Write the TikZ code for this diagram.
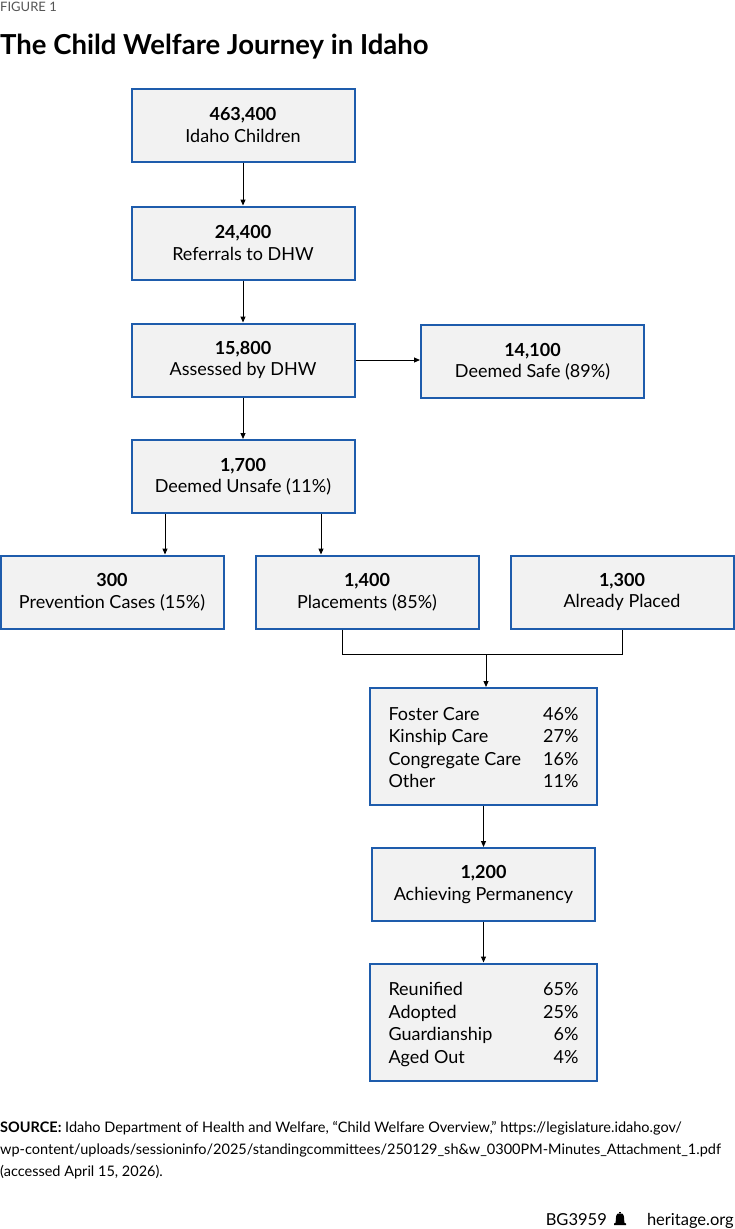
\documentclass[tikz,border=0pt]{standalone}
\usepackage{fontspec}
\setmainfont{Lato}
\usetikzlibrary{arrows.meta}
\definecolor{boxblue}{RGB}{30,92,172}
\definecolor{boxfill}{RGB}{242,242,242}
\definecolor{figgray}{RGB}{85,85,85}
\tikzset{
  box/.style={draw=boxblue, line width=2pt, fill=boxfill, minimum width=223pt, minimum height=73pt, align=center, inner sep=0pt, font=\fontsize{18}{21.5}\selectfont},
  listbox/.style={draw=boxblue, line width=2pt, fill=boxfill, minimum width=227pt, minimum height=117pt, inner sep=0pt, font=\fontsize{18}{22.5}\selectfont},
  arr/.style={line width=1pt, -{Triangle[length=6pt,width=5pt]}},
  ln/.style={line width=1pt},
  srcline/.style={anchor=base west, inner sep=0pt, font=\fontsize{14.5}{22}\selectfont}
}
\newcommand{\twoline}[2]{{\bfseries #1}\\#2}
\begin{document}
\begin{tikzpicture}[x=1pt,y=-1pt]
\useasboundingbox (0,0) rectangle (734,1229);
\node[anchor=base west, inner sep=0pt, text=figgray, font=\fontsize{13}{14}\selectfont] (fig) at (0,11) {FIGURE 1};
\node[anchor=base west, inner sep=0pt, font=\fontsize{27.5}{30}\bfseries\selectfont] (title) at (0,54) {The Child Welfare Journey in Idaho};

\node[box] (b1) at (243,125) {\twoline{463,400}{Idaho Children}};
\node[box] (b2) at (243,243) {\twoline{24,400}{Referrals to DHW}};
\node[box] (b3) at (243,360) {\twoline{15,800}{Assessed by DHW}};
\node[box] (safe) at (532.5,361.5) {\twoline{14,100}{Deemed Safe (89\%)}};
\node[box] (b4) at (243,476.5) {\twoline{1,700}{Deemed Unsafe (11\%)}};
\node[box] (prev) at (112,592) {\twoline{300}{Prevention Cases (15\%)}};
\node[box] (place) at (367,592) {\twoline{1,400}{Placements (85\%)}};
\node[box] (already) at (622,592) {\twoline{1,300}{Already Placed}};

\node[listbox] (l1) at (483.5,746.5) {\raisebox{-3pt}[\height][\depth]{\begin{tabular*}{190pt}{@{}l@{\extracolsep{\fill}}r@{}}
Foster Care & 46\%\\
Kinship Care & 27\%\\
Congregate Care & 16\%\\
Other & 11\%
\end{tabular*}}};
\node[box] (perm) at (483.5,884.5) {\twoline{1,200}{Achieving Permanency}};
\node[listbox] (l2) at (483.5,1022) {\raisebox{-3pt}[\height][\depth]{\begin{tabular*}{190pt}{@{}l@{\extracolsep{\fill}}r@{}}
Reunified & 65\%\\
Adopted & 25\%\\
Guardianship & 6\%\\
Aged Out & 4\%
\end{tabular*}}};

\draw[arr] (b1.south) -- (b2.north);
\draw[arr] (b2.south) -- (b3.north);
\draw[arr] (b3.south) -- (b4.north);
\draw[arr] (b3.east) -- (b3.east -| safe.west);
\draw[arr] ([xshift=-78pt]b4.south) -- ([xshift=53pt]prev.north);
\draw[arr] ([xshift=78pt]b4.south) -- ([xshift=-46pt]place.north);
\coordinate (m) at (486,654);
\draw[ln] ([xshift=-25pt]place.south) |- (m);
\draw[ln] (m) -| (already.south);
\draw[arr] (m) -- (m |- l1.north);
\draw[arr] (l1.south) -- (perm.north);
\draw[arr] (perm.south) -- (l2.north);

\node[srcline] (src1) at (0,1132) {{\bfseries SOURCE:} Idaho Department of Health and Welfare, “Child Welfare Overview,” https://legislature.idaho.gov/};
\node[srcline] (src2) at (0,1154) {wp-content/uploads/sessioninfo/2025/standingcommittees/250129\_sh\&w\_0300PM-Minutes\_Attachment\_1.pdf};
\node[srcline] (src3) at (0,1176) {(accessed April 15, 2026).};

\node[anchor=base east, inner sep=0pt, font=\fontsize{16.5}{18}\selectfont] (site) at (734,1225) {heritage.org};
\node[anchor=base east, inner sep=0pt, font=\fontsize{16.5}{18}\selectfont] (code) at (607,1225) {BG3959};
\coordinate (bell) at (620,1225);
\fill (bell) ++(-6,0) -- ++(12,0) -- ++(0,-1.5) -- ++(-1.6,-0.8) -- ++(-0.5,-6.5)
  .. controls ++(0,-2.6) and ++(2.2,0) .. ++(-3.9,-2.8)
  .. controls ++(-2.2,0) and ++(0,-2.6) .. ++(-3.9,2.8)
  -- ++(-0.5,6.5) -- ++(-1.6,0.8) -- cycle;
\fill (bell) ++(-1,-11.6) rectangle ++(2,-1.6);
\end{tikzpicture}
\end{document}
